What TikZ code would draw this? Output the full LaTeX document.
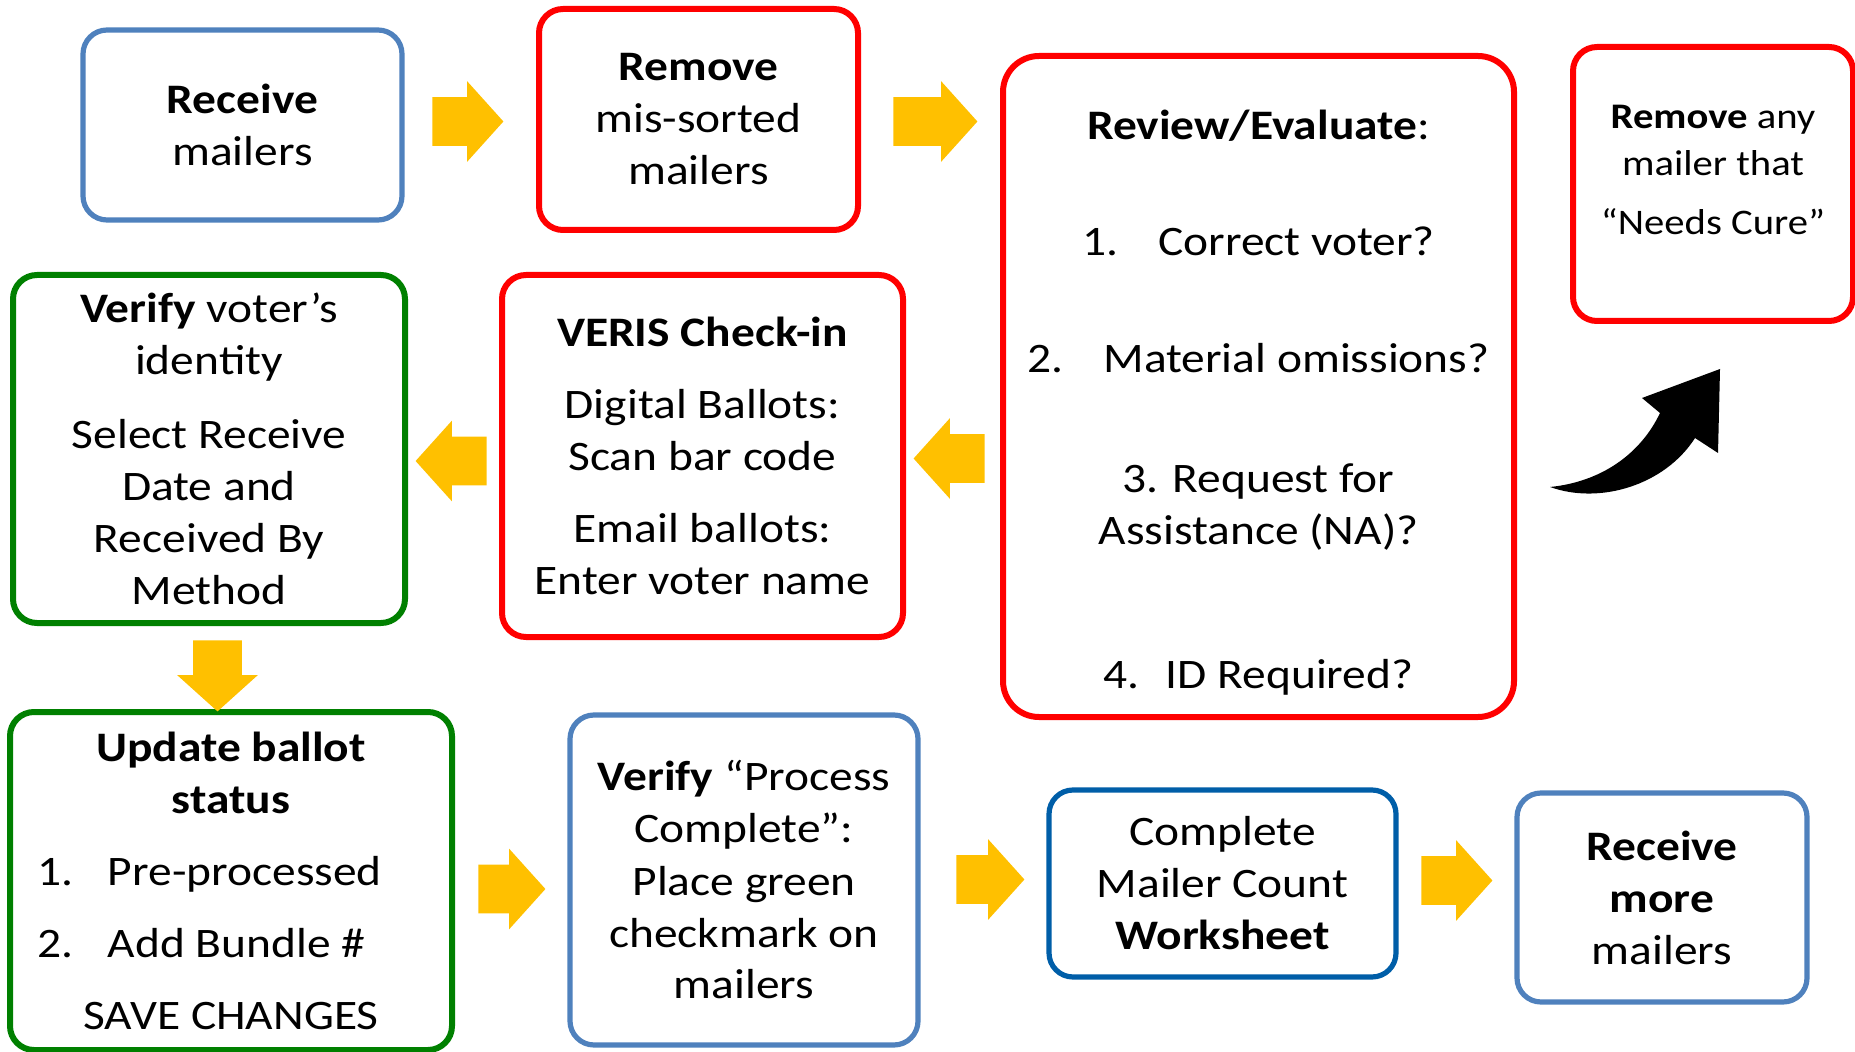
\documentclass[tikz,border=0pt]{standalone}
\usepackage{fontspec}
\setmainfont{Carlito}[FakeStretch=1.13]
\usetikzlibrary{shapes.arrows}
\definecolor{boxblue}{RGB}{79,129,189}
\definecolor{boxred}{RGB}{255,0,0}
\definecolor{boxgreen}{RGB}{0,128,0}
\definecolor{boxnavy}{RGB}{0,94,168}
\definecolor{arrowgold}{RGB}{255,192,0}
\tikzset{stepbox/.style={rectangle,rounded corners=12pt,draw,line width=2.6pt,fill=white,align=center,inner sep=0pt,font=\fontsize{21}{26}\selectfont}}

\begin{document}
\begin{tikzpicture}[x=0.5pt,y=-0.5pt]
  % some styles
  \tikzset{
    bluebox/.style={stepbox,draw=boxblue},
    navybox/.style={stepbox,draw=boxnavy},
    redbox/.style={stepbox,draw=boxred,line width=3pt},
    greenbox/.style={stepbox,draw=boxgreen,line width=3pt}
  }
  \tikzset{
    flow/.style={
      single arrow,
      fill=arrowgold,
      draw=none,
      anchor=tail,
      inner xsep=0pt,
      inner ysep=12pt,
      minimum height=35.5pt,
      single arrow head extend=8pt,
      single arrow tip angle=96
    }
  }
  \useasboundingbox (0,0) rectangle (1855,1052);

  % top row
  \node[bluebox,minimum width=159.5pt,minimum height=95pt] (recv) at (242.5,125)
    {\textbf{Receive}\\mailers};
  \node[redbox,minimum width=159.5pt,minimum height=110.5pt] (missort) at (698.5,119.5)
    {\textbf{Remove}\\mis-sorted\\mailers};
  \node[redbox,rounded corners=18pt,minimum width=255.5pt,minimum height=330.5pt] (review) at (1258.5,386.5)
    {\rule{0pt}{31pt}\textbf{Review/Evaluate}:\\[32pt]
     1.\hspace{20pt}Correct voter?\\[32.5pt]
     2.\hspace{20pt}Material omissions?\\[34pt]
     3. Request for\\Assistance (NA)?\\[46pt]
     4.\hspace{13pt}ID Required?};
  \node[redbox,minimum width=140pt,minimum height=137pt,font=\fontsize{18}{23.5}\selectfont] (cure) at (1713,184)
    {\textbf{Remove} any\\mailer that\\[6pt]“Needs Cure”\rule[-14pt]{0pt}{0pt}};

  % middle row
  \node[redbox,minimum width=200.5pt,minimum height=181pt] (veris) at (702.5,456)
    {\textbf{VERIS Check-in}\\[10pt]Digital Ballots:\\Scan bar code\\[10pt]Email ballots:\\Enter voter name};
  \node[greenbox,minimum width=196pt,minimum height=174pt] (ident) at (209,449)
    {\textbf{Verify} voter’s\\identity\\[11pt]Select Receive\\Date and\\Received By\\Method};

  % bottom row
  \node[greenbox,minimum width=221pt,minimum height=169pt] (update) at (231,881)
    {\textbf{Update ballot}\\\textbf{status}\\[10pt]
     \makebox[221pt][l]{\hspace*{13.5pt}\makebox[35.5pt][l]{1.}Pre-processed}\\[10pt]
     \makebox[221pt][l]{\hspace*{13.5pt}\makebox[35.5pt][l]{2.}Add Bundle \#}\\[10pt]
     SAVE CHANGES};
  \node[bluebox,minimum width=174pt,minimum height=165pt] (process) at (744,880)
    {\textbf{Verify} “Process\\Complete”:\\Place green\\checkmark on\\mailers};
  \node[navybox,minimum width=173.5pt,minimum height=93.5pt] (count) at (1222.5,883.5)
    {Complete\\Mailer Count\\\textbf{Worksheet}};
  \node[bluebox,minimum width=145pt,minimum height=104.5pt] (more) at (1662,897.5)
    {\textbf{Receive}\\\textbf{more}\\mailers};

  % yellow block arrows
  \node[flow] (a1) at (432,121.5) {};
  \node[flow,minimum height=42pt] (a2) at (893,121.5) {};
  \node[flow,rotate=180] (a3) at (985,458.5) {};
  \node[flow,rotate=180] (a4) at (487,461) {};
  \node[flow,rotate=-90] (a5) at (217.5,640) {};
  \node[flow,minimum height=33.5pt] (a6) at (478,889) {};
  \node[flow,minimum height=34pt] (a7) at (956,879.5) {};
  \node[flow] (a8) at (1421,880.5) {};

  % black curved arrow
  \fill[black] (1550,487) .. controls (1600,482) and (1640,455) .. (1660,413)
    -- (1642,398) -- (1720,369) -- (1718,453) -- (1695,438)
    .. controls (1665,485) and (1600,505) .. (1550,487) -- cycle;
\end{tikzpicture}
\end{document}
